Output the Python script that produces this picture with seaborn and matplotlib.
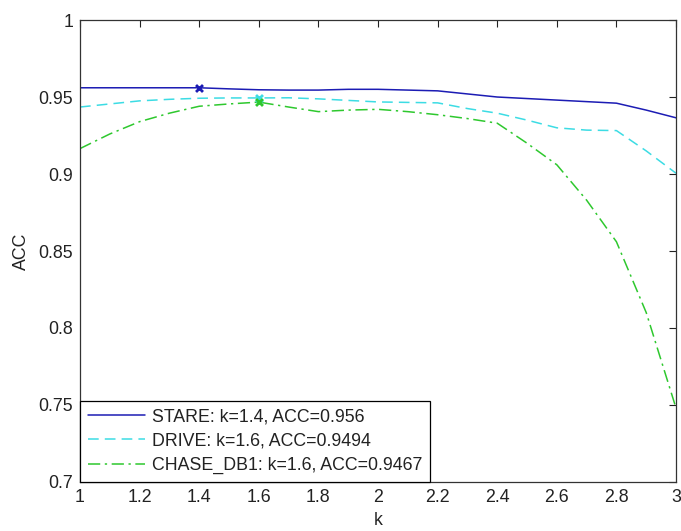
import numpy as np
import pandas as pd
import matplotlib
matplotlib.use("Agg")
import matplotlib.pyplot as plt
import seaborn as sns

k_values = [1.0, 1.1, 1.2, 1.3, 1.4, 1.5, 1.6, 1.7, 1.8, 1.9, 2.0,
            2.1, 2.2, 2.3, 2.4, 2.5, 2.6, 2.7, 2.8, 2.9, 3.0]
stare_acc = [0.9560, 0.9560, 0.9560, 0.9560, 0.9560, 0.9553, 0.9547, 0.9545, 0.9545, 0.9550, 0.9550,
             0.9545, 0.9540, 0.9520, 0.9500, 0.9490, 0.9480, 0.9470, 0.9460, 0.9415, 0.9365]
drive_acc = [0.9435, 0.9455, 0.9475, 0.9485, 0.9492, 0.9494, 0.9494, 0.9495, 0.9488, 0.9478, 0.9468,
             0.9465, 0.9462, 0.9425, 0.9395, 0.9350, 0.9300, 0.9285, 0.9282, 0.9150, 0.9005]
chase_acc = [0.9165, 0.9260, 0.9340, 0.9395, 0.9440, 0.9455, 0.9467, 0.9435, 0.9405, 0.9415, 0.9420,
             0.9405, 0.9385, 0.9360, 0.9330, 0.9200, 0.9060, 0.8830, 0.8560, 0.8100, 0.7480]
best_k = [1.4, 1.6, 1.6]
best_acc = [0.956, 0.9494, 0.9467]
labels = ["STARE: k=1.4, ACC=0.956", "DRIVE: k=1.6, ACC=0.9494", "CHASE_DB1: k=1.6, ACC=0.9467"]
x_ticks = [1, 1.2, 1.4, 1.6, 1.8, 2, 2.2, 2.4, 2.6, 2.8, 3]
x_tick_labels = ["1", "1.2", "1.4", "1.6", "1.8", "2", "2.2", "2.4", "2.6", "2.8", "3"]
y_ticks = [0.7, 0.75, 0.8, 0.85, 0.9, 0.95, 1.0]
y_tick_labels = ["0.7", "0.75", "0.8", "0.85", "0.9", "0.95", "1"]

sns.set_style("white")
plt.rcParams['font.family'] = ['Liberation Sans', 'DejaVu Sans']

FS = 12.8
colors = ["#1c1cb4", "#3cdce4", "#2ec82e"]
dashes = [(None, None), (7, 4), (8, 3, 1.5, 3)]

fig = plt.figure(figsize=(6.81, 5.31), dpi=100)
ax = fig.add_axes([0.1175, 0.0923, 0.9927 - 0.1175, 0.9623 - 0.0923])

series = [stare_acc, drive_acc, chase_acc]
for i, (vals, lab) in enumerate(zip(series, labels)):
    df = pd.DataFrame({"k": k_values, "ACC": vals})
    sns.lineplot(data=df, x="k", y="ACC", ax=ax, color=colors[i], linewidth=1.1,
                 label=lab)
    ln = ax.get_lines()[-1]
    if i > 0:
        ln.set_dashes(dashes[i])

for i in range(3):
    sns.scatterplot(x=[best_k[i]], y=[best_acc[i]], ax=ax, marker="x", color=colors[i],
                    s=25, linewidth=2, legend=False, zorder=5)

ax.set_xlim(1, 3)
ax.set_ylim(0.7, 1.0)
ax.set_xticks(x_ticks)
ax.set_xticklabels(x_tick_labels)
ax.set_yticks(y_ticks)
ax.set_yticklabels(y_tick_labels)
ax.tick_params(direction="in", length=5, width=0.8, top=True, right=True,
               labelsize=FS, colors="#222222", labelcolor="#222222", pad=5)
for s in ax.spines.values():
    s.set_visible(True)
    s.set_color("#333333")
    s.set_linewidth(0.9)
ax.set_xlabel("k", fontsize=FS, labelpad=4.5, color="#222222")
ax.set_ylabel("ACC", fontsize=FS, labelpad=6, color="#222222")

leg = ax.legend(loc="lower left", borderaxespad=0, fancybox=False, framealpha=1,
                edgecolor="black", fontsize=FS, handlelength=3.2, handletextpad=0.4,
                labelspacing=0.4, borderpad=0.45)
leg.get_frame().set_linewidth(0.9)
for t in leg.get_texts():
    t.set_color("#222222")

fig.savefig("out.png", dpi=100)
